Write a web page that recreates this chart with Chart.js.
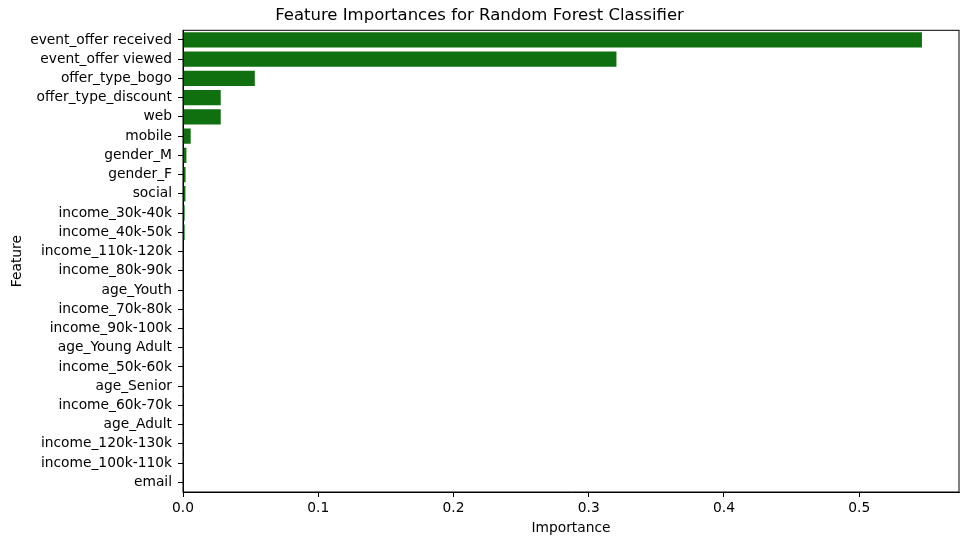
<!DOCTYPE html>
<html>
<head>
<meta charset="utf-8">
<script src="https://cdn.jsdelivr.net/npm/chart.js@4/dist/chart.umd.min.js"></script>
<style>
  html, body { margin: 0; padding: 0; background: #fff; }
  #wrap { width: 967px; height: 545px; }
</style>
</head>
<body>
<div id="wrap"><canvas id="chart"></canvas></div>
<script>
// Features, sorted by importance
const features = [
  "event_offer received", "event_offer viewed", "offer_type_bogo", "offer_type_discount",
  "web", "mobile", "gender_M", "gender_F", "social", "income_30k-40k", "income_40k-50k",
  "income_110k-120k", "income_80k-90k", "age_Youth", "income_70k-80k", "income_90k-100k",
  "age_Young Adult", "income_50k-60k", "age_Senior", "income_60k-70k", "age_Adult",
  "income_120k-130k", "income_100k-110k", "email"
];
const importances = [
  0.5464, 0.3205, 0.0531, 0.0279,
  0.0279, 0.0057, 0.0025, 0.0019, 0.0018, 0.0012, 0.0012,
  0.0003, 0.0003, 0.0003, 0.0002, 0.0002,
  0.0002, 0.0002, 0.0001, 0.0001, 0.0001,
  0.0001, 0.0001, 0.0
];
const xTicks = [0, 0.1, 0.2, 0.3, 0.4, 0.5];

const font = "'DejaVu Sans', sans-serif";

// matplotlib style box around the axes
const frame = {
  id: "frame",
  afterDraw(chart) {
    const { ctx, chartArea: a } = chart;
    ctx.save();
    ctx.strokeStyle = "#000";
    ctx.lineWidth = 1;
    ctx.strokeRect(a.left, a.top, a.right - a.left, a.bottom - a.top);
    ctx.restore();
  }
};

const ctx = document.getElementById("chart").getContext("2d");
new Chart(ctx, {
  type: "bar",
  data: {
    labels: features,
    datasets: [{
      data: importances,
      backgroundColor: "rgb(16,112,16)",
      borderWidth: 0,
      barPercentage: 0.8,
      categoryPercentage: 1.0
    }]
  },
  options: {
    indexAxis: "y",
    responsive: true,
    maintainAspectRatio: false,
    animation: false,
    layout: { padding: { left: 0, right: 8, top: 0, bottom: 0 } },
    plugins: {
      legend: { display: false },
      tooltip: { enabled: false },
      title: {
        display: true,
        text: "Feature Importances for Random Forest Classifier",
        color: "#000",
        font: { family: font, size: 16.5, weight: "normal", lineHeight: 1.2 },
        padding: { top: 6, bottom: 4.5 }
      }
    },
    scales: {
      x: {
        type: "linear",
        min: 0,
        max: 0.5738,
        afterBuildTicks: scale => { scale.ticks = xTicks.map(v => ({ value: v })); },
        afterFit: scale => { scale.height = 53; },
        ticks: {
          includeBounds: false,
          color: "#000",
          padding: 3,
          font: { family: font, size: 13.8 },
          callback: v => Number(v).toFixed(1)
        },
        grid: { display: true, drawOnChartArea: false, drawTicks: true, tickLength: 5, color: "#000" },
        border: { display: true, color: "#000", width: 1 },
        title: {
          display: true,
          text: "Importance",
          color: "#000",
          font: { family: font, size: 13.8, lineHeight: 1.2 },
          padding: { top: 0, bottom: 8 }
        }
      },
      y: {
        afterFit: scale => { scale.width = 183; },
        ticks: {
          color: "#000",
          padding: 6,
          autoSkip: false,
          font: { family: font, size: 13.8 }
        },
        grid: { display: true, offset: false, drawOnChartArea: false, drawTicks: true, tickLength: 5, color: "#000" },
        border: { display: true, color: "#000", width: 1 },
        title: {
          display: true,
          text: "Feature",
          color: "#000",
          font: { family: font, size: 13.8, lineHeight: 1.2 },
          padding: { top: 9, bottom: 0 }
        }
      }
    }
  },
  plugins: [frame]
});
</script>
</body>
</html>
